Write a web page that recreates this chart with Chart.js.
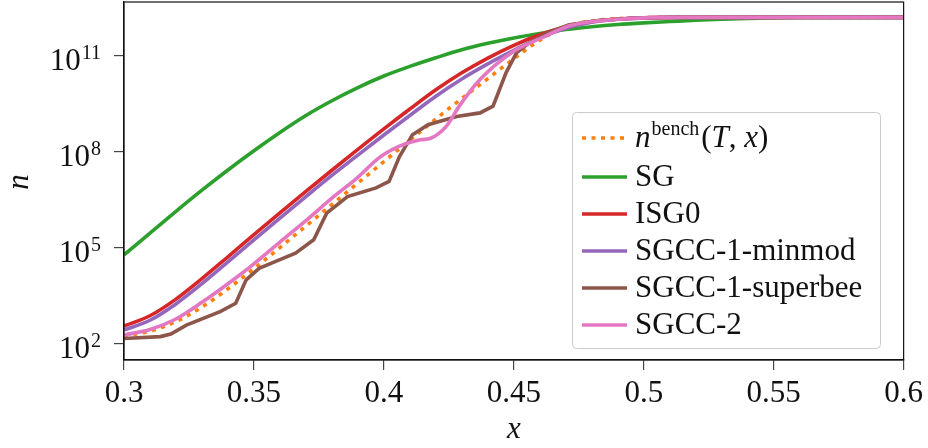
<!DOCTYPE html>
<html>
<head>
<meta charset="utf-8">
<script src="https://cdn.jsdelivr.net/npm/chart.js"></script>
<style>
  html, body { margin: 0; padding: 0; background: #fff; }
  canvas { display: block; }
</style>
</head>
<body>
<canvas id="chart" width="928" height="448"></canvas>
<script>
//--------------------------------------------------
// DATA (values are log10 of n)
//--------------------------------------------------
const xs = [0.30,0.31,0.32,0.33,0.34,0.35,0.36,0.37,0.38,0.39,0.40,0.41,0.42,0.43,0.44,0.45,
            0.46,0.47,0.48,0.49,0.50,0.51,0.52,0.53,0.54,0.55,0.56,0.57,0.58,0.59,0.60];

const benchExp   = [2.25,2.40,2.70,3.15,3.72,4.35,5.01,5.68,6.35,7.02,7.69,8.36,9.02,9.66,10.28,10.90,
                    11.48,11.90,12.08,12.15,12.18,12.19,12.19,12.19,12.19,12.19,12.19,12.19,12.19,12.19,12.19];
const sgExp      = [4.78,5.46,6.14,6.80,7.43,8.03,8.60,9.13,9.59,10.00,10.36,10.66,10.93,11.18,11.38,11.55,
                    11.69,11.81,11.90,11.97,12.02,12.06,12.10,12.13,12.155,12.175,12.185,12.19,12.19,12.19,12.19];
const isg0Exp    = [2.56,2.88,3.40,4.04,4.72,5.41,6.09,6.76,7.42,8.07,8.71,9.33,9.93,10.46,10.92,11.32,
                    11.65,11.90,12.06,12.14,12.18,12.19,12.19,12.19,12.19,12.19,12.19,12.19,12.19,12.19,12.19];
const minmodExp  = [2.44,2.74,3.25,3.88,4.56,5.25,5.93,6.60,7.26,7.89,8.52,9.13,9.73,10.27,10.74,11.16,
                    11.55,11.85,12.04,12.13,12.17,12.19,12.19,12.19,12.19,12.19,12.19,12.19,12.19,12.19,12.19];

// SGCC-2 and superbee have kinks, so they get their own x positions
const sgcc2X   = [0.30,0.31,0.32,0.33,0.34,0.35,0.36,0.37,0.38,0.39,0.398,0.406,0.414,0.418,0.424,0.429,
                  0.437,0.449,0.462,0.471,0.480,0.494,0.510,0.600];
const sgcc2Exp = [2.28,2.45,2.78,3.30,3.88,4.50,5.18,5.85,6.55,7.20,7.80,8.17,8.37,8.42,8.79,9.42,
                  10.25,11.08,11.60,11.92,12.06,12.15,12.19,12.19];

const superbeeX   = [0.300,0.314,0.318,0.324,0.337,0.343,0.347,0.352,0.360,0.366,0.373,0.378,0.386,0.397,0.402,
                     0.406,0.411,0.417,0.428,0.437,0.442,0.447,0.451,0.456,0.463,0.471,0.483,0.498,0.513,0.600];
const superbeeExp = [2.17,2.23,2.31,2.59,3.01,3.27,4.00,4.36,4.63,4.83,5.25,6.08,6.60,6.87,7.07,
                     7.85,8.53,8.84,9.10,9.21,9.42,10.46,11.08,11.40,11.71,11.95,12.10,12.17,12.19,12.19];

const xTicks = [0.3,0.35,0.4,0.45,0.5,0.55,0.6];
const yTickExps = [2,5,8,11];

const seriesNames = ["bench","SG","ISG0","SGCC-1-minmod","SGCC-1-superbee","SGCC-2"];
const seriesColors = ["#ff7f0e","#2ca02c","#d62728","#9467bd","#8c564b","#e377c2"];

//--------------------------------------------------
// CHART
//--------------------------------------------------
const FONT = "'Liberation Serif', 'DejaVu Serif', serif";

function pts(xArr, eArr){
  return xArr.map((x,i)=>({x:x, y:Math.pow(10, eArr[i])}));
}

function line(idx, data, extra){
  return Object.assign({
    label: seriesNames[idx],
    data: data,
    borderColor: seriesColors[idx],
    backgroundColor: seriesColors[idx],
    borderWidth: 3.6,
    pointRadius: 0,
    fill: false,
    cubicInterpolationMode: "monotone",
    order: 6 - idx
  }, extra || {});
}

const datasets = [
  line(0, pts(xs, benchExp), {borderDash:[4,5.5], borderCapStyle:"butt"}),
  line(1, pts(xs, sgExp)),
  line(2, pts(xs, isg0Exp)),
  line(3, pts(xs, minmodExp)),
  line(4, pts(superbeeX, superbeeExp), {cubicInterpolationMode:"default", tension:0}),
  line(5, pts(sgcc2X, sgcc2Exp))
];

// frame, y tick labels with exponents, axis titles, legend
const decorations = {
  id: "decorations",
  afterDraw(chart){
    const ctx = chart.ctx;
    const a = chart.chartArea;
    const ys = chart.scales.y;

    ctx.save();
    ctx.strokeStyle = "#111";
    ctx.lineWidth = 1.2;
    ctx.strokeRect(a.left, a.top, a.right - a.left, a.bottom - a.top);

    // y tick labels 10^k
    ctx.fillStyle = "#111";
    ctx.textBaseline = "alphabetic";
    yTickExps.forEach(k=>{
      const py = ys.getPixelForValue(Math.pow(10,k));
      ctx.font = "31px " + FONT;
      const w10 = ctx.measureText("10").width;
      ctx.font = "20px " + FONT;
      const we = ctx.measureText(String(k)).width;
      const x0 = 100 - w10 - we;
      ctx.font = "31px " + FONT;
      ctx.textAlign = "left";
      ctx.fillText("10", x0, py + 14);
      ctx.font = "20px " + FONT;
      ctx.fillText(String(k), x0 + w10 + 1, py + 3);
    });

    // axis titles
    ctx.font = "italic 31px " + FONT;
    ctx.textAlign = "center";
    ctx.textBaseline = "middle";
    ctx.fillText("x", (a.left + a.right)/2, 430);
    ctx.save();
    ctx.translate(20, 182);
    ctx.rotate(-Math.PI/2);
    ctx.fillText("n", 0, 0);
    ctx.restore();

    // legend
    const lx = 572, ly = 112, lw = 308, lh = 236;
    ctx.fillStyle = "rgba(255,255,255,0.85)";
    ctx.strokeStyle = "#cccccc";
    ctx.lineWidth = 1;
    ctx.beginPath();
    ctx.roundRect(lx + 0.5, ly + 0.5, lw, lh, 4);
    ctx.fill();
    ctx.stroke();

    const rowY = [138, 177, 214, 251, 288, 325];
    seriesNames.forEach((name,i)=>{
      const y = rowY[i];
      ctx.strokeStyle = seriesColors[i];
      ctx.lineWidth = 3.6;
      ctx.lineCap = "butt";
      ctx.setLineDash(i === 0 ? [4,5.5] : []);
      ctx.beginPath();
      ctx.moveTo(582, y);
      ctx.lineTo(627, y);
      ctx.stroke();
      ctx.setLineDash([]);

      ctx.fillStyle = "#111";
      ctx.textAlign = "left";
      ctx.textBaseline = "alphabetic";
      const base = y + 9;
      if(i === 0){
        let x = 635;
        const part = (txt, font, dy)=>{
          ctx.font = font;
          ctx.fillText(txt, x, base + (dy || 0));
          x += ctx.measureText(txt).width;
        };
        part("n", "italic 31px " + FONT);
        x += 1;
        part("bench", "20px " + FONT, -12);
        x += 2;
        part("(", "31px " + FONT);
        part("T", "italic 31px " + FONT);
        part(", ", "31px " + FONT);
        part("x", "italic 31px " + FONT);
        part(")", "31px " + FONT);
      } else {
        ctx.font = "31px " + FONT;
        ctx.fillText(name, 635, base);
      }
    });
    ctx.restore();
  }
};

new Chart(document.getElementById("chart"), {
  type: "line",
  data: { datasets },
  options: {
    responsive: false,
    animation: false,
    devicePixelRatio: 1,
    layout: { padding: { top: 2, right: 24, left: 0, bottom: 0 } },
    plugins: { legend: { display: false }, tooltip: { enabled: false } },
    scales: {
      x: {
        type: "linear",
        min: 0.3,
        max: 0.6,
        afterBuildTicks: s => { s.ticks = xTicks.map(v=>({value:v})); },
        afterFit: s => { s.height = 88; },
        ticks: {
          autoSkip: false,
          maxRotation: 0,
          padding: 5,
          color: "#111",
          font: { family: FONT, size: 31 },
          callback: v => String(Number(v.toFixed(2)))
        },
        grid: { drawOnChartArea: false, drawTicks: true, tickLength: 10, color: "#444", lineWidth: 1.2 },
        border: { display: true, color: "#111", width: 1.2 }
      },
      y: {
        type: "logarithmic",
        min: Math.pow(10, 1.5),
        max: Math.pow(10, 12.67),
        afterBuildTicks: s => { s.ticks = yTickExps.map(k=>({value:Math.pow(10,k)})); },
        afterFit: s => { s.width = 124; s.paddingTop = 0; s.paddingBottom = 0; },
        ticks: { callback: () => "", font: { size: 1 } },
        grid: { drawOnChartArea: false, drawTicks: true, tickLength: 10, color: "#444", lineWidth: 1.2 },
        border: { display: true, color: "#111", width: 1.2 }
      }
    }
  },
  plugins: [decorations]
});
</script>
</body>
</html>
